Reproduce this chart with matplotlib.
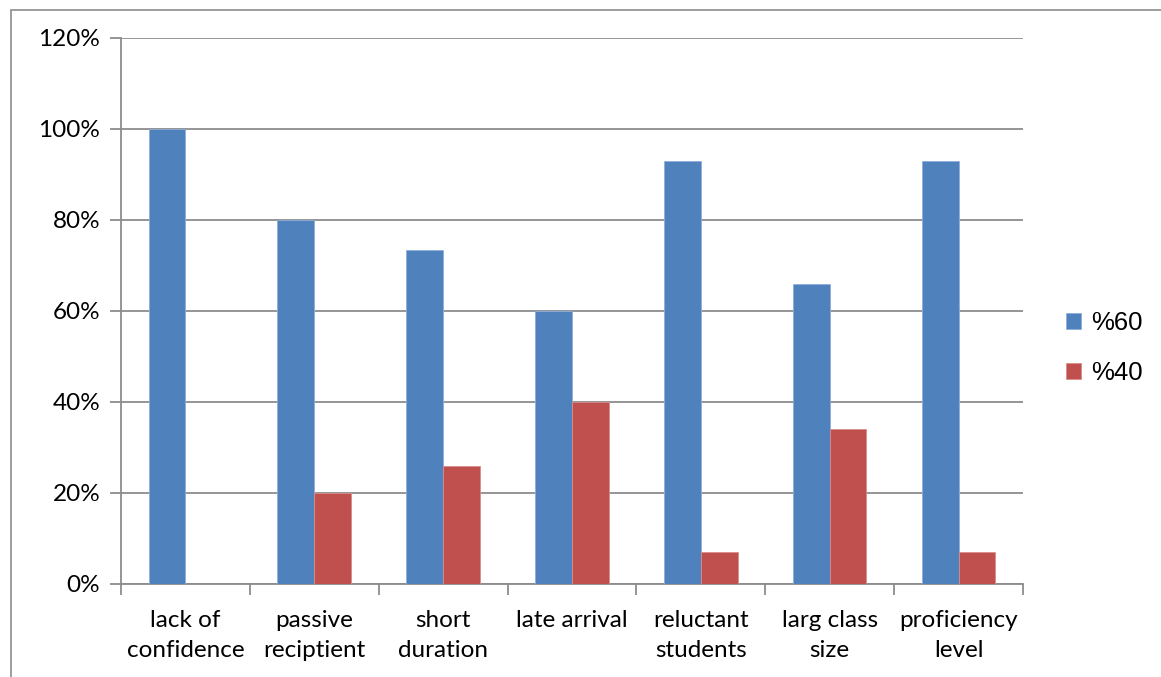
import numpy as np
import matplotlib.pyplot as plt
from matplotlib.patches import Rectangle
from matplotlib.ticker import FixedLocator, PercentFormatter

categories = ['lack of\nconfidence', 'passive\nreciptient', 'short\nduration',
              'late arrival', 'reluctant\nstudents', 'larg class\nsize',
              'proficiency\nlevel']
series_names = ['%60', '%40']
vals_60 = [100, 80, 73.3, 60, 93, 66, 93]
vals_40 = [0, 20, 26, 40, 7, 34, 7]
yticks = [0, 20, 40, 60, 80, 100, 120]


def plot(fname='out.png'):
    fig = plt.figure(figsize=(11.61, 6.77), dpi=100)
    ax = fig.add_axes([0.1042, 0.1374, 0.7769, 0.8065])

    # frame of the embedded chart
    fig.patches.append(Rectangle((11 / 1161, -0.01), 1.1, 1 - 10 / 677 + 0.01,
                                 transform=fig.transFigure, fill=False,
                                 edgecolor='#8c8c8c', linewidth=1.2))

    x = np.arange(len(categories))
    w = 1 / 3.5
    ax.bar(x - w / 2, vals_60, w, color='#4F81BD', edgecolor='#8eaedb',
           linewidth=0.6, label=series_names[0], zorder=3)
    ax.bar(x + w / 2, vals_40, w, color='#C0504D', edgecolor='#d98d8b',
           linewidth=0.6, label=series_names[1], zorder=3)

    ax.set_xlim(-0.5, len(categories) - 0.5)
    ax.set_ylim(0, 120)
    ax.set_yticks(yticks)
    ax.yaxis.set_major_formatter(PercentFormatter(decimals=0))
    ax.grid(axis='y', color='#8c8c8c', linewidth=1.3, zorder=0)

    ax.set_xticks(x)
    ax.set_xticklabels(categories, fontsize=17.5, family='Lato', linespacing=1.5)
    ax.xaxis.set_minor_locator(FixedLocator(np.arange(-0.5, len(categories), 1)))
    ax.tick_params(axis='x', which='major', length=0, pad=19)
    ax.tick_params(axis='x', which='minor', length=8, width=1.3, color='#8c8c8c')
    ax.tick_params(axis='y', length=8, width=1.3, color='#8c8c8c',
                   labelsize=17.5, pad=7)
    for lb in ax.get_yticklabels():
        lb.set_family('Lato')

    for s in ['top', 'right']:
        ax.spines[s].set_visible(False)
    for s in ['left', 'bottom']:
        ax.spines[s].set_color('#8c8c8c')
        ax.spines[s].set_linewidth(1.3)

    ax.legend(loc='center left', bbox_to_anchor=(1.033, 0.432), frameon=False,
              prop={'family': 'Liberation Sans', 'size': 18.5},
              handlelength=0.6, handleheight=0.6, handletextpad=0.4,
              labelspacing=1.0, borderpad=0)

    fig.savefig(fname, dpi=100)


if __name__ == '__main__':
    plot()
